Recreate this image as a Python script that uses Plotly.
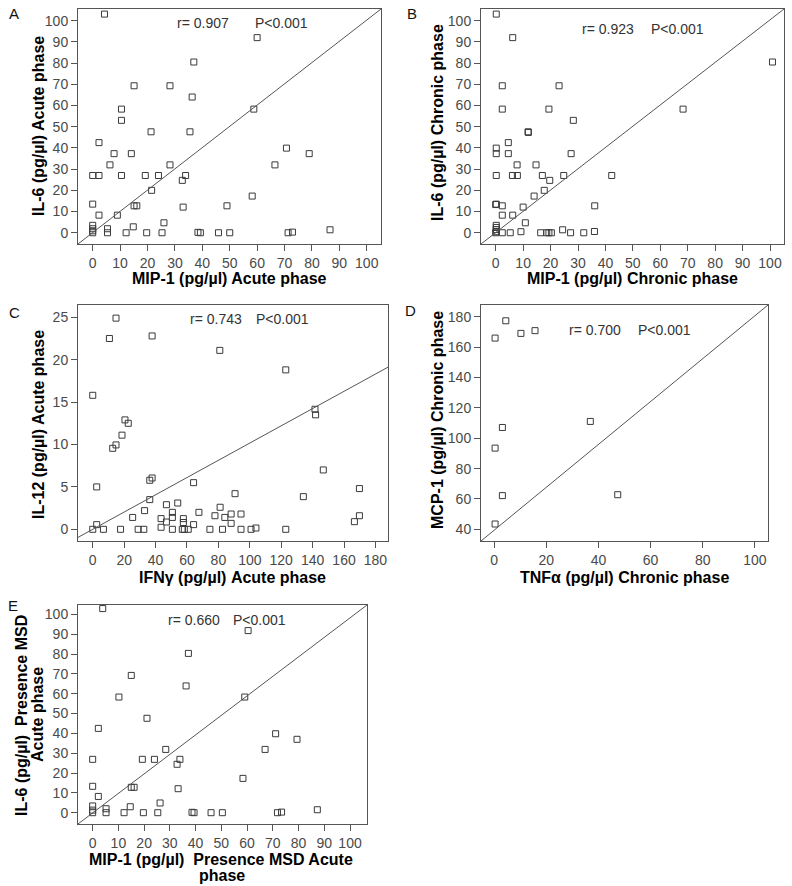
import plotly.graph_objects as go

# ---------------- data ----------------
A_x = [4.3, 60, 36.9, 15.1, 28.2, 36.3, 58.8, 10.5, 10.5, 21.3, 35.5, 2.3, 70.7, 7.8, 14.1, 79, 6.3, 28.2, 66.5, 0,
       2.3, 10.5, 19.2, 24, 33.9, 32.7, 21.5, 58.2, 0, 15.1, 16.1, 33, 49, 2.3, 9, 26, 0, 0, 0, 0,
       5.4, 5.4, 14.8, 12.2, 19.7, 25.3, 38.4, 39.3, 45.9, 50, 71.3, 72.9, 86.6]
A_y = [103.1, 92, 80.5, 69.3, 69.3, 64, 58.3, 58.3, 53, 47.6, 47.6, 42.5, 39.9, 37.3, 37.3, 37.3, 32, 32, 32, 27,
       27, 27, 27, 27, 27, 24.7, 20, 17.3, 13.5, 12.7, 12.7, 12.1, 12.7, 8.3, 8.3, 4.7, 3.5, 1.9, 0.9, 0,
       1.9, 0, 2.8, 0, 0, 0, 0.2, 0, 0, 0, 0, 0.3, 1.4]

B_x = [0.2, 6.2, 100.9, 2.4, 23.1, 2.4, 19.4, 68.3, 28.3, 11.8, 11.9, 4.6, 0.2, 0.2, 4.6, 27.5, 7.8, 14.7, 0.2, 6.1,
       7.9, 17, 24.8, 42.3, 19.7, 17.7, 14, 0.2, 0, 2.4, 36.1, 10, 2.4, 6.2, 10.8, 0.2, 0.2, 0.2, 0.2, 0,
       2.4, 5.3, 9.2, 16.4, 18.6, 19.4, 20.3, 24.4, 27.3, 32.1, 36]
B_y = [103.1, 92, 80.5, 69.3, 69.3, 58.3, 58.3, 58.3, 53, 47.6, 47.3, 42.5, 39.9, 37.3, 37.3, 37.3, 32, 32, 27, 27,
       27, 27, 27, 27, 24.7, 20, 17.3, 13.5, 13.3, 12.7, 12.7, 12.1, 8.3, 8.3, 4.7, 3.5, 2.5, 1.5, 0.5, 0,
       0, 0, 0.5, 0, 0, 0, 0, 1.4, 0, 0, 0.6]

C_x = [14.8, 10.6, 37.8, 80.9, 122.9, 0, 141.5, 141.9, 20.5, 22.6, 18.6, 14.8, 12.7, 146.8, 37.8, 36.3, 64.2, 2.5,
       169.8, 90.6, 134.1, 36.3, 54.1, 46.9, 81.1, 33, 50.7, 67.6, 88.1, 94.4, 77.8, 169.8, 25.4, 50.7, 84.1, 43.5,
       57.7, 46.9, 166.6, 57.7, 88.1, 2.5, 64.2, 43.5, 103.9, 0, 6.8, 17.7, 28.9, 32.5, 50.7, 57, 58.3, 60.8, 74.6,
       82.6, 94.4, 100.8, 122.9]
C_y = [24.9, 22.5, 22.8, 21.1, 18.8, 15.8, 14.15, 13.5, 12.9, 12.5, 11.1, 9.95, 9.55, 7.0, 6.05, 5.78, 5.5, 5.0,
       4.8, 4.2, 3.85, 3.5, 3.1, 2.9, 2.6, 2.2, 2.0, 2.0, 1.8, 1.8, 1.6, 1.6, 1.4, 1.4, 1.4, 1.26,
       1.26, 0.86, 0.9, 0.8, 0.7, 0.55, 0.55, 0.24, 0.15, 0, 0, 0, 0, 0, 0, 0, 0, 0, 0,
       0, 0, 0, 0]
C_slope = 0.1017
C_intercept = 0.0

D_x = [4.5, 0.4, 10.3, 15.7, 36.9, 3.2, 0.4, 3.2, 47.4, 0.4]
D_y = [177.4, 166.0, 169.1, 170.9, 111.1, 107.1, 93.5, 62.2, 62.8, 43.5]

E_x = [3.9, 60.4, 37.2, 15.0, 36.3, 59.1, 10.2, 21.1, 2.2, 71.1, 79.4, 67, 28.4, 0, 19.3, 24, 33.9, 32.8, 58.4, 0,
       15, 16.1, 33.2, 2.2, 26.2, 0, 0, 0, 5.2, 5.2, 14.6, 12.2, 19.7, 25.3, 38.6, 39.4, 46, 50.4, 71.8, 73.4, 87.3]
E_y = [102.9, 91.8, 80.3, 69.2, 63.9, 58.3, 58.3, 47.6, 42.5, 39.8, 37, 31.9, 31.9, 26.9, 26.9, 26.9, 26.9, 24.4, 17.3, 13.3,
       12.8, 12.8, 12.1, 8.2, 4.9, 3.4, 1.3, 0, 2, 0, 3, 0, 0, 0, 0.2, 0, 0, 0, 0, 0.3, 1.5]

panel_letters = ["A", "B", "C", "D", "E"]
r_texts = ["r= 0.907", "r= 0.923", "r= 0.743", "r= 0.700", "r= 0.660"]
p_text = "P<0.001"
# each title is a list of lines
x_titles = [["MIP-1 (pg/µl) Acute phase"], ["MIP-1 (pg/µl) Chronic phase"], ["IFNγ (pg/µl) Acute phase"],
            ["TNFα (pg/µl) Chronic phase"], ["MIP-1 (pg/µl)\u00a0\u00a0Presence MSD Acute", "phase"]]
y_titles = [["IL-6 (pg/µl) Acute phase"], ["IL-6 (pg/µl) Chronic phase"], ["IL-12 (pg/µl) Acute phase"],
            ["MCP-1 (pg/µl) Chronic phase"], ["IL-6 (pg/µl)\u00a0\u00a0Presence MSD", "Acute phase"]]

# ---------------- layout geometry (pixels) ----------------
W, H = 792, 886
def px(x): return x / W
def py(y): return 1 - y / H

panels = [
    dict(xp=(78, 381), yp=(9, 244), xr=(-5.36, 105.2), yr=(-5.3, 105.5), xt=list(range(0, 101, 10)), yt=list(range(0, 101, 10))),
    dict(xp=(481, 784), yp=(9, 244), xr=(-5.36, 105.1), yr=(-5.3, 105.5), xt=list(range(0, 101, 10)), yt=list(range(0, 101, 10))),
    dict(xp=(78, 388), yp=(305, 541), xr=(-9.4, 188), yr=(-1.38, 26.45), xt=list(range(0, 181, 20)), yt=list(range(0, 26, 5))),
    dict(xp=(481, 768), yp=(305, 541), xr=(-5, 105), yr=(32.3, 187.8), xt=list(range(0, 101, 20)), yt=list(range(40, 181, 20))),
    dict(xp=(78, 367), yp=(605, 824), xr=(-5.7, 106.6), yr=(-5.7, 104.7), xt=list(range(0, 101, 10)), yt=list(range(0, 101, 10))),
]
data_x = [A_x, B_x, C_x, D_x, E_x]
data_y = [A_y, B_y, C_y, D_y, E_y]

letter_pos = [(7, 13), (405, 13), (7, 313), (403, 310), (6, 605)]
r_pos = [(203, 23), (608, 29), (216, 319), (595, 330), (194, 620)]
p_pos = [(281, 23), (677, 29), (282, 319), (664, 330), (259, 620)]
xt_pos = [[(229, 278)], [(632, 278)], [(233, 577)], [(624, 577)], [(221, 859), (222, 875)]]
yt_pos = [[(38, 126)], [(437, 123)], [(38, 425)], [(437, 420)], [(21, 716), (37, 715)]]

FONT = "Liberation Sans, Arial, sans-serif"
LINE = "#555555"

fig = go.Figure()
annotations = []
shapes = []
layout_axes = {}

for i, p in enumerate(panels):
    n = "" if i == 0 else str(i + 1)
    xa, ya = "x" + n, "y" + n
    fig.add_trace(go.Scatter(
        x=data_x[i], y=data_y[i], mode="markers", xaxis=xa, yaxis=ya,
        marker=dict(symbol="square-open", size=6, color="#3a3a3a", line=dict(width=1, color="#3a3a3a")),
        showlegend=False, hoverinfo="skip"))
    common = dict(showline=True, mirror=True, linecolor=LINE, linewidth=1, ticks="outside", ticklen=6,
                  tickcolor=LINE, tickwidth=1, showgrid=False, zeroline=False,
                  tickfont=dict(family=FONT, size=14, color="#4a4a4a"), fixedrange=True)
    layout_axes["xaxis" + n] = dict(common, domain=[px(p["xp"][0]), px(p["xp"][1])], range=list(p["xr"]),
                                    tickmode="array", tickvals=p["xt"], anchor=ya)
    layout_axes["yaxis" + n] = dict(common, domain=[py(p["yp"][1]), py(p["yp"][0])], range=list(p["yr"]),
                                    tickmode="array", tickvals=p["yt"], anchor=xa)
    if i != 2:
        shapes.append(dict(type="line", xref=xa + " domain", yref=ya + " domain", x0=0, y0=0, x1=1, y1=1,
                           line=dict(color=LINE, width=1)))
    annotations.append(dict(text=panel_letters[i], x=px(letter_pos[i][0]), y=py(letter_pos[i][1]), xref="paper",
                            yref="paper", xanchor="left", yanchor="middle", showarrow=False,
                            font=dict(family=FONT, size=15, color="#111111")))
    annotations.append(dict(text=r_texts[i], x=px(r_pos[i][0]), y=py(r_pos[i][1]), xref="paper", yref="paper",
                            xanchor="center", yanchor="middle", showarrow=False,
                            font=dict(family=FONT, size=14, color="#333333")))
    annotations.append(dict(text=p_text, x=px(p_pos[i][0]), y=py(p_pos[i][1]), xref="paper", yref="paper",
                            xanchor="center", yanchor="middle", showarrow=False,
                            font=dict(family=FONT, size=14, color="#333333")))
    for line_text, (lx, ly) in zip(x_titles[i], xt_pos[i]):
        annotations.append(dict(text="<b>" + line_text + "</b>", x=px(lx), y=py(ly), xref="paper", yref="paper",
                                xanchor="center", yanchor="middle", showarrow=False, borderpad=0,
                                font=dict(family=FONT, size=16, color="#000000")))
    for line_text, (lx, ly) in zip(y_titles[i], yt_pos[i]):
        annotations.append(dict(text="<b>" + line_text + "</b>", x=px(lx), y=py(ly), xref="paper", yref="paper",
                                xanchor="center", yanchor="middle", showarrow=False, textangle=-90, borderpad=0,
                                font=dict(family=FONT, size=16, color="#000000")))

# regression line of panel C, drawn across its x range
cx0, cx1 = panels[2]["xr"]
fig.add_trace(go.Scatter(x=[cx0, cx1], y=[C_slope * cx0 + C_intercept, C_slope * cx1 + C_intercept],
                         mode="lines", xaxis="x3", yaxis="y3", line=dict(color=LINE, width=1),
                         showlegend=False, hoverinfo="skip"))

fig.update_layout(width=W, height=H, margin=dict(l=0, r=0, t=0, b=0), paper_bgcolor="white",
                  plot_bgcolor="white", annotations=annotations, shapes=shapes, **layout_axes)
fig.write_html("out.html", config={"displayModeBar": False},
               post_script="document.body.style.margin='0';document.body.style.padding='0';"
                           "document.body.style.overflow='hidden';")
